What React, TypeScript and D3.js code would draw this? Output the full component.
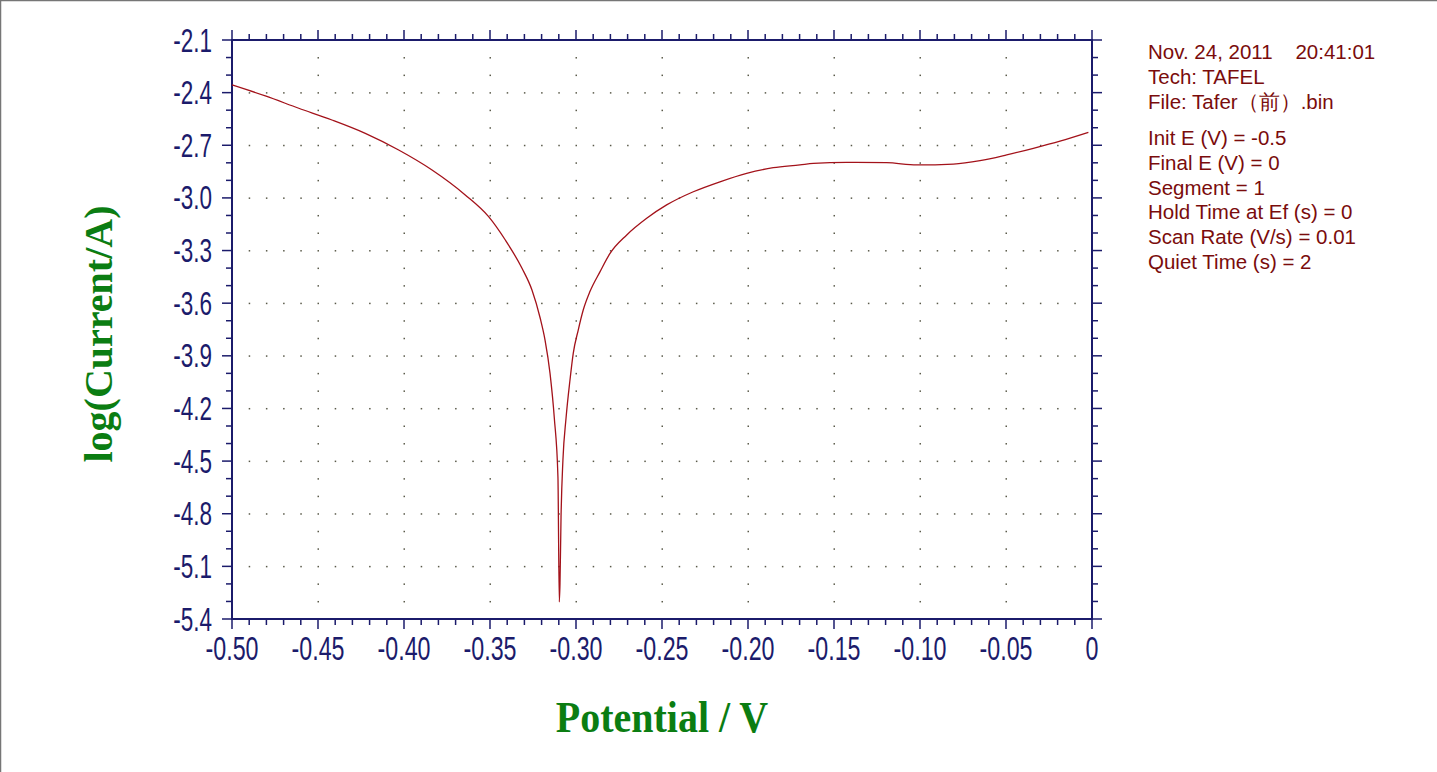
import React from "react";
import * as d3 from "d3";

const potential = [
  -0.5, -0.4806, -0.4612, -0.4419, -0.4225, -0.4031, -0.3837, -0.3644, -0.3508, -0.3411,
  -0.3314, -0.3256, -0.3208, -0.318, -0.3151, -0.3126, -0.3105, -0.3097,
  -0.3093, -0.3087, -0.3076, -0.3058, -0.3035, -0.3016, -0.2987, -0.2958, -0.2919,
  -0.286, -0.2802, -0.2705, -0.2589, -0.2473, -0.2318, -0.2163, -0.2008, -0.1853,
  -0.1698, -0.162, -0.1427, -0.1194, -0.1019, -0.0806, -0.0651, -0.0496, -0.0341,
  -0.0186, -0.0021,
];
const logCurrent = [
  -2.356, -2.419, -2.489, -2.556, -2.632, -2.727, -2.841, -2.983, -3.107, -3.24,
  -3.401, -3.525, -3.686, -3.81, -4.0, -4.256, -4.59, -5.303,
  -5.195, -4.819, -4.494, -4.256, -4.038, -3.886, -3.753, -3.639, -3.534,
  -3.42, -3.316, -3.211, -3.116, -3.04, -2.965, -2.908, -2.86, -2.828,
  -2.812, -2.803, -2.797, -2.799, -2.812, -2.807, -2.788, -2.755, -2.717,
  -2.676, -2.626,
];
const xTickValues = [-0.5, -0.45, -0.4, -0.35, -0.3, -0.25, -0.2, -0.15, -0.1, -0.05, 0];
const xTickLabels = ["-0.50", "-0.45", "-0.40", "-0.35", "-0.30", "-0.25", "-0.20", "-0.15", "-0.10", "-0.05", "0"];
const yTickValues = [-2.1, -2.4, -2.7, -3.0, -3.3, -3.6, -3.9, -4.2, -4.5, -4.8, -5.1, -5.4];
const yTickLabels = ["-2.1", "-2.4", "-2.7", "-3.0", "-3.3", "-3.6", "-3.9", "-4.2", "-4.5", "-4.8", "-5.1", "-5.4"];
const infoTop = ["Nov. 24, 2011    20:41:01", "Tech: TAFEL", "File: Tafer（前）.bin"];
const infoParams = [
  "Init E (V) = -0.5",
  "Final E (V) = 0",
  "Segment = 1",
  "Hold Time at Ef (s) = 0",
  "Scan Rate (V/s) = 0.01",
  "Quiet Time (s) = 2",
];

const W = 1437;
const H = 772;
const L = 232, R = 1092, T = 40, B = 619;
const AXIS = "#1b1b6b";
const GREEN = "#0b7d12";
const RED = "#7a0c0c";

export default function App() {
  const x = d3.scaleLinear().domain([-0.5, 0]).range([L, R]);
  const y = d3.scaleLinear().domain([-2.1, -5.4]).range([T, B]);

  const xMinor = d3.range(0, 51).map((i) => -0.5 + i * 0.01);
  const yMinor = d3.range(0, 34).map((i) => -2.1 - i * 0.1);
  const isMajorX = (i: number) => i % 5 === 0;
  const isMajorY = (i: number) => i % 3 === 0;

  const line = d3
    .line<number>()
    .x((_, i) => x(potential[i]))
    .y((v) => y(v))
    .curve(d3.curveMonotoneX);

  const dots: JSX.Element[] = [];
  yTickValues.slice(1, -1).forEach((yv, j) => {
    xMinor.slice(1, -1).forEach((xv, i) => {
      dots.push(<rect key={`h${j}-${i}`} x={x(xv) - 0.5} y={y(yv) - 0.5} width={1.5} height={1.5} fill="#5a5a4a" />);
    });
  });
  xTickValues.slice(1, -1).forEach((xv, j) => {
    yMinor.slice(1, -1).forEach((yv, i) => {
      if ((i + 1) % 3 === 0) return;
      dots.push(<rect key={`v${j}-${i}`} x={x(xv) - 0.5} y={y(yv) - 0.5} width={1.5} height={1.5} fill="#5a5a4a" />);
    });
  });

  return (
    <svg
      width={W}
      height={H}
      style={{ position: "absolute", left: 0, top: 0, background: "#fff" }}
    >
      <rect x={0} y={0} width={W} height={H} fill="#fff" />
      <line x1={0.5} y1={0} x2={0.5} y2={H} stroke="#767676" strokeWidth={1.5} />
      <line x1={0} y1={0.5} x2={W} y2={0.5} stroke="#767676" strokeWidth={1.5} />

      {dots}

      {xMinor.map((v, i) => {
        const len = isMajorX(i) ? 10 : 6;
        return (
          <g key={`xt${i}`} stroke={AXIS} strokeWidth={1.5}>
            <line x1={x(v)} x2={x(v)} y1={T} y2={T - len} />
            <line x1={x(v)} x2={x(v)} y1={B} y2={B + len} />
          </g>
        );
      })}
      {yMinor.map((v, i) => {
        const len = isMajorY(i) ? 10 : 6;
        return (
          <g key={`yt${i}`} stroke={AXIS} strokeWidth={1.5}>
            <line x1={L} x2={L - len} y1={y(v)} y2={y(v)} />
            <line x1={R} x2={R + len} y1={y(v)} y2={y(v)} />
          </g>
        );
      })}

      <rect x={L} y={T} width={R - L} height={B - T} fill="none" stroke={AXIS} strokeWidth={2} />

      <path d={line(logCurrent) || ""} fill="none" stroke="#a3121a" strokeWidth={1.3} />

      {yTickValues.map((v, i) => (
        <text
          key={`yl${i}`}
          transform={`translate(${L - 20},${y(v) + 11.5}) scale(0.9,1.3)`}
          textAnchor="end"
          fontFamily="Liberation Sans, Arial, sans-serif"
          fontSize={25}
          fill={AXIS}
        >
          {yTickLabels[i]}
        </text>
      ))}
      {xTickValues.map((v, i) => (
        <text
          key={`xl${i}`}
          transform={`translate(${x(v)},${660}) scale(0.93,1.35)`}
          textAnchor="middle"
          fontFamily="Liberation Sans, Arial, sans-serif"
          fontSize={25}
          fill={AXIS}
        >
          {xTickLabels[i]}
        </text>
      ))}

      <text
        transform={`translate(662,732) scale(1,1.12)`}
        textAnchor="middle"
        fontFamily="Liberation Serif, Times New Roman, serif"
        fontWeight="bold"
        fontSize={40}
        fill={GREEN}
      >
        Potential / V
      </text>
      <text
        transform={`translate(112,334) rotate(-90)`}
        textAnchor="middle"
        fontFamily="Liberation Serif, Times New Roman, serif"
        fontWeight="bold"
        fontSize={40}
        fill={GREEN}
      >
        log(Current/A)
      </text>

      <g fontFamily="Liberation Sans, Arial, sans-serif" fontSize={20.5} fill={RED}>
        {infoTop.map((t, i) => (
          <text key={`it${i}`} x={1148} y={59 + i * 24.8} style={{ whiteSpace: "pre" }}>
            {t}
          </text>
        ))}
        {infoParams.map((t, i) => (
          <text key={`ip${i}`} x={1148} y={145 + i * 24.8}>
            {t}
          </text>
        ))}
      </g>
    </svg>
  );
}
